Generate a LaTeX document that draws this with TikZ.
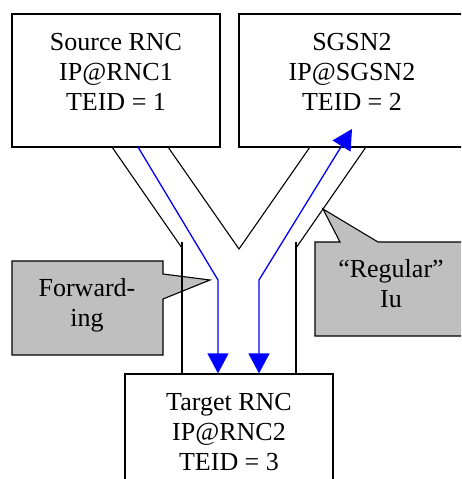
\documentclass[tikz,border=0pt]{standalone}
\usepackage{fontspec}
\setmainfont{Liberation Serif}
\usetikzlibrary{arrows.meta}

\begin{document}
\begin{tikzpicture}[x=1pt,y=-1pt,
    box/.style={rectangle,draw,line width=1.2pt,fill=white,minimum width=208,minimum height=133,inner sep=0},
    txt/.style={align=center,inner sep=0,anchor=base,font=\fontsize{26}{30}\selectfont},
    pipe/.style={line width=1.1pt},
    callout/.style={draw,line width=1.1pt,fill=black!25},
    flow/.style={blue,line width=1.3pt,-{Triangle[length=20pt,width=21pt]}}]

\useasboundingbox (0,0) rectangle (461,479);
\clip (0,0) rectangle (461,479);

% the three tunnel end points
\node[box] (src) at (116,80.5) {};
\node[box,minimum width=226] (sgsn) at (352,80.5) {};
\node[box] (tgt) at (229,440.5) {};
\node[txt] (srctxt) at (116,110) {Source RNC\\IP@RNC1\\TEID = 1};
\node[txt] (sgsntxt) at (352,110) {SGSN2\\IP@SGSN2\\TEID = 2};
\node[txt] (tgttxt) at (229,470) {Target RNC\\IP@RNC2\\TEID = 3};

% callouts
\draw[callout] (12,261) -- (163,261) -- (163,274) -- (210,280) -- (163,299) -- (163,355) -- (12,355) -- cycle;
\draw[callout] (315,242) -- (340,242) -- (323,209) -- (378,242) -- (470,242) -- (470,336) -- (315,336) -- cycle;
\node[txt] (fwdtxt) at (87,326) {Forward-\\ing};
\node[txt] (regtxt) at (391,307) {“Regular”\\Iu};

% the Y shaped pipe
\foreach \s in {-1,1}{
  \pgfmathsetmacro{\xo}{239+\s*127}
  \pgfmathsetmacro{\xv}{239+\s*57}
  \draw[pipe] (\xo,147) -- (\xv,248);
  \draw[pipe] (\xv,242) -- (\xv,374);
  }
\draw[pipe] (168,147) -- (239,249) -- (310,147);

% tunnels
\coordinate (fwdout) at (138,147);
\coordinate (fwdbend) at (218,280);
\coordinate (regbend) at (259,280);
\coordinate (regtip) at (352,129);
\draw[flow] (fwdout) -- (fwdbend) -- (fwdbend |- tgt.north);
\draw[flow,{Triangle[length=20pt,width=21pt]}-{Triangle[length=20pt,width=21pt]}] (regbend |- tgt.north) -- (regbend) -- (regtip);

\end{tikzpicture}
\end{document}
